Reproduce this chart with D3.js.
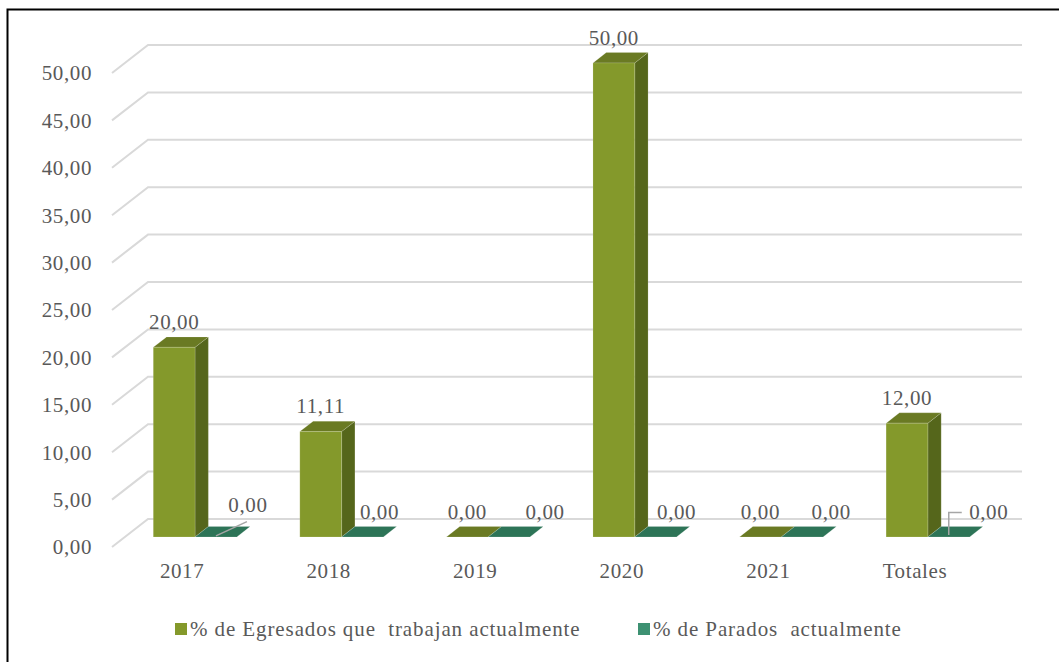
<!DOCTYPE html>
<html>
<head>
<meta charset="utf-8">
<script src="https://cdn.jsdelivr.net/npm/d3@7"></script>
<style>
  html, body { margin: 0; padding: 0; background: #fff; }
  svg { display: block; }
  svg text { font-family: 'Liberation Serif', 'DejaVu Serif', 'Times New Roman', Times, serif; fill: #595959; }
</style>
</head>
<body>
<svg id="chart" width="1059" height="662"></svg>
<script>
// Data
const categories = ["2017", "2018", "2019", "2020", "2021", "Totales"];
const seriesNames = ["% de Egresados que  trabajan actualmente", "% de Parados  actualmente"];
const egresados = [20.00, 11.11, 0.00, 50.00, 0.00, 12.00];
const parados = [0.00, 0.00, 0.00, 0.00, 0.00, 0.00];
const yTicks = [0, 5, 10, 15, 20, 25, 30, 35, 40, 45, 50];

// Horizontal nudges for the zero labels of the second series (kept clear of neighbours)
const paradosLabelNudge = [32, 17, 36, 21, 29, 40];

// Styling
const fontFamily = "'Liberation Serif', 'DejaVu Serif', 'Times New Roman', Times, serif";
const palette = [
  { front: "#84992b", top: "#6a7a23", side: "#55661b" },
  { front: "#3a9370", top: "#2d7457", side: "#27634a" }
];
const gridColor = "#d9d9d9";

const svg = d3.select("#chart").attr("font-family", fontFamily);
const fmtLocale = d3.formatLocale({ decimal: ",", thousands: ".", grouping: [3], currency: ["", ""] });
const fmt = fmtLocale.format(".2f");

// Oblique 3D projection: back wall in screen space, depth z from 0 (back) to 1 (front)
const depthX = -36, depthY = 28;
const proj = (x, yPix, z) => [x + depthX * z, yPix + depthY * z];

const x0 = d3.scaleBand().domain(categories).range([147, 1022]).paddingInner(0.43).paddingOuter(0.2);
const x1 = d3.scaleBand().domain([0, 1]).range([0, x0.bandwidth()]).padding(0);
const y = d3.scaleLinear().domain([0, 50]).range([519, 45]);

const zFront = 0.64, zBack = 0.27;

// Frame
svg.append("rect")
  .attr("x", 7.5).attr("y", 9.5).attr("width", 1070).attr("height", 680)
  .attr("fill", "none").attr("stroke", "#000").attr("stroke-width", 2);

// Gridlines: back wall plus side-wall diagonal
const grid = svg.append("g");
yTicks.forEach(t => {
  const yb = y(t);
  const [fx, fy] = proj(148, yb, 1);
  grid.append("path")
    .attr("d", `M${fx},${fy}L148,${yb}L1022,${yb}`)
    .attr("fill", "none").attr("stroke", gridColor).attr("stroke-width", 2);
});

// Text helper
const label = (sel) => sel.attr("font-family", fontFamily).attr("font-size", 21)
  .attr("fill", "#595959").attr("letter-spacing", 0.6);

// Y axis labels on the front edge
svg.append("g").selectAll("text").data(yTicks).join("text")
  .attr("x", 92)
  .attr("y", d => y(d) + depthY)
  .attr("dy", "0.35em")
  .attr("text-anchor", "end")
  .call(label)
  .text(d => fmt(d));

// Category labels on the front floor edge
svg.append("g").selectAll("text").data(categories).join("text")
  .attr("x", d => x0(d) + x0.bandwidth() / 2 + depthX)
  .attr("y", 578)
  .attr("text-anchor", "middle")
  .call(label)
  .text(d => d);

// Bars
const series = [egresados, parados];
const barsG = svg.append("g");
const poly = pts => "M" + pts.map(p => p.join(",")).join("L") + "Z";

categories.forEach((cat, i) => {
  series.forEach((vals, s) => {
    const v = vals[i];
    const xl = x0(cat) + x1(s);
    const xr = xl + x1.bandwidth();
    const yv = y(v), yz = y(0);
    const col = palette[s];
    const g = barsG.append("g");
    // right side face
    g.append("path").attr("d", poly([
      proj(xr, yz, zFront), proj(xr, yv, zFront), proj(xr, yv, zBack), proj(xr, yz, zBack)
    ])).attr("fill", col.side);
    // top face
    g.append("path").attr("d", poly([
      proj(xl, yv, zFront), proj(xr, yv, zFront), proj(xr, yv, zBack), proj(xl, yv, zBack)
    ])).attr("fill", col.top);
    // front face
    if (v > 0) {
      g.append("path").attr("d", poly([
        proj(xl, yz, zFront), proj(xr, yz, zFront), proj(xr, yv, zFront), proj(xl, yv, zFront)
      ])).attr("fill", col.front);
    }
    g.selectAll("path").attr("stroke", "rgba(255,255,255,0.25)").attr("stroke-width", 0.6);
  });
});

// Data labels
const labelsG = svg.append("g");
categories.forEach((cat, i) => {
  // first series: centred over the front face
  {
    const v = egresados[i];
    const xl = x0(cat) + x1(0);
    const cx = xl + x1.bandwidth() / 2 + depthX * zFront;
    const yTop = y(v) + depthY * zBack;
    labelsG.append("text")
      .attr("x", cx).attr("y", yTop - 8)
      .attr("text-anchor", "middle")
      .call(label)
      .text(fmt(v));
  }
  // second series: offset to the right
  {
    const v = parados[i];
    const xl = x0(cat) + x1(1);
    const cx = xl + x1.bandwidth() / 2 + depthX * zFront;
    const yTop = y(v) + depthY * zBack;
    const lx = cx + paradosLabelNudge[i];
    let ly = yTop - 8;
    if (i === 0) {
      ly -= 7;
      // diagonal leader line
      labelsG.append("line")
        .attr("x1", cx).attr("y1", y(v) + depthY * zFront - 1)
        .attr("x2", lx - 1).attr("y2", ly + 10)
        .attr("stroke", "#a6a6a6").attr("stroke-width", 1.5);
    }
    if (i === categories.length - 1) {
      // elbow leader line
      const ex = cx, ey = y(v) + depthY * zFront - 2;
      labelsG.append("path")
        .attr("d", `M${ex},${ey}L${ex},${ly - 6}L${ex + 13},${ly - 6}`)
        .attr("fill", "none").attr("stroke", "#a6a6a6").attr("stroke-width", 1.5);
    }
    labelsG.append("text")
      .attr("x", lx).attr("y", ly)
      .attr("text-anchor", "middle")
      .call(label)
      .text(fmt(v));
  }
});

// Legend
const legendItems = [
  { name: seriesNames[0], color: palette[0].front, x: 175 },
  { name: seriesNames[1], color: "#3d9172", x: 638 }
];
const legend = svg.append("g");
legendItems.forEach(it => {
  legend.append("rect")
    .attr("x", it.x).attr("y", 623).attr("width", 12).attr("height", 12)
    .attr("fill", it.color);
  legend.append("text")
    .attr("x", it.x + 15).attr("y", 636)
    .call(label)
    .attr("letter-spacing", 0.9)
    .style("white-space", "pre")
    .text(it.name);
});
</script>
</body>
</html>
